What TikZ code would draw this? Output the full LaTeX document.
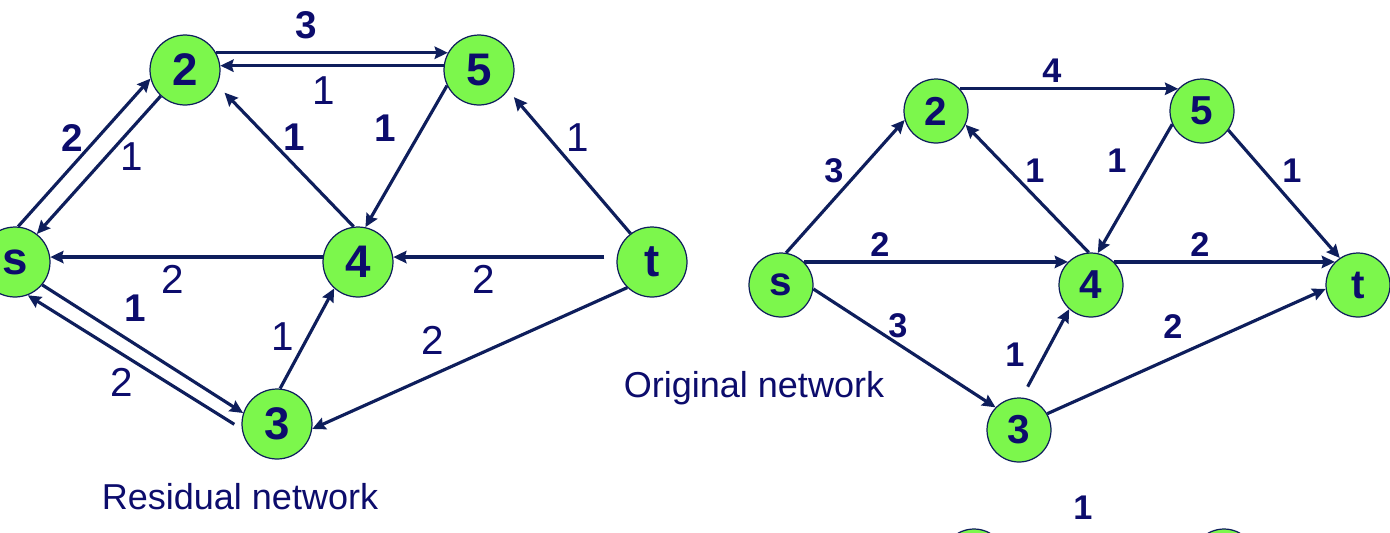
\documentclass[tikz,border=0pt]{standalone}
\usepackage{fontspec}
\setmainfont{Liberation Sans}
\usetikzlibrary{arrows.meta}
\definecolor{navy}{RGB}{14,30,92}
\definecolor{txt}{RGB}{12,12,108}
\definecolor{gfill}{RGB}{124,247,76}
\tikzset{
  x=0.02cm, y=-0.02cm,
  bignode/.style={circle, draw=navy, line width=0.7pt, fill=gfill, inner sep=0pt, minimum size=1.4cm,
    text=txt, font=\bfseries\fontsize{26}{26}\selectfont},
  smallnode/.style={circle, draw=navy, line width=0.7pt, fill=gfill, inner sep=0pt, minimum size=1.28cm,
    text=txt, font=\bfseries\fontsize{23}{23}\selectfont},
  conn/.style={draw=navy, line width=1.8pt, -{Stealth[length=7.5pt,width=7pt,inset=1pt]}},
  lb/.style={text=txt, inner sep=0pt, font=\bfseries\fontsize{22}{22}\selectfont},
  lr/.style={text=txt, inner sep=0pt, font=\fontsize{23}{23}\selectfont},
  rl/.style={text=txt, inner sep=0pt, font=\bfseries\fontsize{19.5}{20}\selectfont},
  captext/.style={text=txt, inner sep=0pt, font=\fontsize{20.5}{21}\selectfont},
}
\begin{document}
\begin{tikzpicture}
\useasboundingbox (0,0) rectangle (1390,532);
% ---------- left: residual network ----------
\node[bignode] (Ls) at (15,262) {s};
\node[bignode] (L2) at (185,70) {2};
\node[bignode] (L5) at (479,70) {5};
\node[bignode] (L4) at (358,262) {4};
\node[bignode] (Lt) at (652,262) {t};
\node[bignode] (L3) at (277,424) {3};

\draw[conn] (L2.29) -- (L5.151);
\draw[conn] (L5.173) -- (L2.7);
\draw[conn] (Ls.85) -- (L2.194);
\draw[conn] (L2.227) -- (Ls.52);
\draw[conn, shorten >=6pt] (L4.97) -- (L2.-25);
\draw[conn] (L5.206) -- (L4.78);
\draw[conn, shorten >=5pt] (Lt.127) -- (L5.-35);
\draw[conn] (L4.172) -- (Ls.8);
\draw[conn, shorten <=7pt] (Lt.172) -- (L4.8);
\draw[conn] (Ls.-40) -- (L3.162);
\draw[conn, shorten <=5pt] (L3.188) -- (Ls.-69);
\draw[conn] (L3.85) -- (L4.228);
\draw[conn] (Lt.226) -- (L3.-8);

\node[lb] (l1) at (306,25) {3};
\node[lr] (l2) at (324,91) {1};
\node[lb] (l3) at (72,138) {2};
\node[lr] (l4) at (132,157) {1};
\node[lb] (l5) at (294,137) {1};
\node[lb] (l6) at (385,128) {1};
\node[lr] (l7) at (578,138) {1};
\node[lr] (l8) at (173,279) {2};
\node[lr] (l9) at (484,279) {2};
\node[lb] (l10) at (135,308) {1};
\node[lr] (l11) at (122,382) {2};
\node[lr] (l12) at (283,337) {1};
\node[lr] (l13) at (433,340) {2};
\node[captext] (c1) at (240,497) {Residual network};
\node[captext] (c2) at (754,388) {Original network};

% ---------- right: original network ----------
\node[smallnode] (Rs) at (781,285) {s};
\node[smallnode] (R2) at (936,111) {2};
\node[smallnode] (R5) at (1202,111) {5};
\node[smallnode] (R4) at (1091,285) {4};
\node[smallnode] (Rt) at (1358,285) {t};
\node[smallnode] (R3) at (1019,430) {3};
\node[smallnode] (Ba) at (974,561) {};
\node[smallnode] (Bb) at (1224,561) {};

\draw[conn] (Rs.81) -- (R2.196);
\draw[conn] (R2.43) -- (R5.137);
\draw[conn] (R4.94) -- (R2.-25);
\draw[conn] (R5.204) -- (R4.78);
\draw[conn] (R5.-36) -- (Rt.124);
\draw[conn] (Rs.45) -- (R4.135);
\draw[conn] (R4.45) -- (Rt.135);
\draw[conn] (Rs.-7) -- (R3.136);
\draw[conn, shorten <=7pt] (R3.85) -- (R4.228);
\draw[conn] (R3.30) -- (Rt.187);

\node[rl] (r1) at (834,171) {3};
\node[rl] (r2) at (1052,71) {4};
\node[rl] (r3) at (1035,171) {1};
\node[rl] (r4) at (1117,161) {1};
\node[rl] (r5) at (1292,171) {1};
\node[rl] (r6) at (880,245) {2};
\node[rl] (r7) at (1200,245) {2};
\node[rl] (r8) at (898,326) {3};
\node[rl] (r9) at (1015,355) {1};
\node[rl] (r10) at (1173,327) {2};
\node[rl] (r11) at (1083,508) {1};
\end{tikzpicture}
\end{document}
